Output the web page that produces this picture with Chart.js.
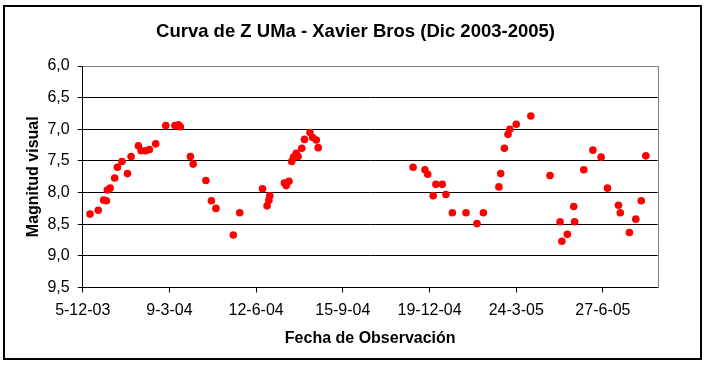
<!DOCTYPE html>
<html>
<head>
<meta charset="utf-8">
<script src="https://cdn.jsdelivr.net/npm/chart.js@4"></script>
<style>
  html, body { margin: 0; padding: 0; background: #fff; }
  canvas { display: block; }
</style>
</head>
<body>
<canvas id="chart" width="711" height="366"></canvas>
<script>
// dias desde 5-12-03 (fecha de observacion)
const obsDays = [8, 17, 23, 26, 27, 30, 35, 38, 43, 49, 53, 61, 64, 69, 73, 80, 91, 101, 105, 107,
  118, 121, 135, 141, 146, 165, 172, 197, 202, 204, 205, 221, 223, 226, 229, 231, 234, 236, 240, 243,
  249, 252, 256, 258, 362, 375, 378, 384, 387, 394, 398, 405, 420, 432, 439, 456, 458, 462, 466, 468,
  475, 491, 512, 523, 525, 531, 538, 539, 549, 559, 568, 575, 587, 589, 599, 606, 612, 617];
const magnitudes = [8.34, 8.28, 8.12, 8.13, 7.96, 7.93, 7.77, 7.60, 7.51, 7.70, 7.43, 7.26, 7.34, 7.34, 7.32, 7.23, 6.94, 6.94, 6.93, 6.96,
  7.43, 7.55, 7.81, 8.13, 8.25, 8.67, 8.32, 7.94, 8.21, 8.12, 8.05, 7.85, 7.89, 7.82, 7.51, 7.44, 7.38, 7.43, 7.30, 7.16,
  7.05, 7.13, 7.17, 7.29, 7.60, 7.64, 7.71, 8.05, 7.87, 7.87, 8.03, 8.32, 8.32, 8.49, 8.32, 7.91, 7.70, 7.30, 7.08, 7.00,
  6.92, 6.79, 7.73, 8.46, 8.77, 8.66, 8.22, 8.46, 7.64, 7.33, 7.44, 7.93, 8.20, 8.32, 8.63, 8.42, 8.13, 7.42];
const tickDays = [0, 95, 190, 285, 380, 475, 570];
const startDate = Date.UTC(2003, 11, 5);

const FONT = '"Liberation Sans", Arial, sans-serif';

const points = obsDays.map((d, i) => ({ x: d, y: magnitudes[i] }));

const frame = {
  id: 'frame',
  beforeDraw(chart) {
    const ctx = chart.ctx;
    ctx.save();
    ctx.fillStyle = '#fff';
    ctx.fillRect(0, 0, chart.width, chart.height);
    ctx.strokeStyle = '#000';
    ctx.lineWidth = 2;
    ctx.strokeRect(4, 6, 697, 353);
    ctx.restore();
  },
  beforeDatasetsDraw(chart) {
    const { ctx, chartArea: a } = chart;
    ctx.save();
    ctx.strokeStyle = '#808080';
    ctx.lineWidth = 1;
    ctx.beginPath();
    ctx.moveTo(Math.round(a.left), Math.round(a.top) + 0.5);
    ctx.lineTo(Math.round(a.right) + 0.5, Math.round(a.top) + 0.5);
    ctx.lineTo(Math.round(a.right) + 0.5, Math.round(a.bottom));
    ctx.stroke();
    ctx.restore();
  }
};

new Chart(document.getElementById('chart'), {
  type: 'scatter',
  data: {
    datasets: [{
      label: 'Z UMa',
      data: points,
      backgroundColor: '#ff0000',
      borderWidth: 0,
      pointRadius: 3.8,
      pointHoverRadius: 3.8,
    }],
  },
  options: {
    responsive: false,
    animation: false,
    layout: { padding: 0 },
    plugins: {
      legend: { display: false },
      tooltip: { enabled: false },
      title: {
        display: true,
        text: 'Curva de Z UMa - Xavier Bros (Dic 2003-2005)',
        color: '#000',
        font: { family: FONT, size: 18.5, weight: 'bold', lineHeight: 1.2 },
        padding: { top: 21, bottom: 66 - 21 - 22.2 },
      },
    },
    scales: {
      x: {
        type: 'linear',
        min: 0,
        max: 630,
        afterBuildTicks: (scale) => { scale.ticks = tickDays.map(v => ({ value: v })); },
        afterFit: (scale) => { scale.height = 366 - 287.5; },
        ticks: {
          color: '#000',
          font: { family: FONT, size: 16 },
          padding: 8,
          maxRotation: 0,
          autoSkip: false,
          callback: (v) => {
            const d = new Date(startDate + v * 864e5);
            return d.getUTCDate() + '-' + (d.getUTCMonth() + 1) + '-' + String(d.getUTCFullYear()).slice(2);
          },
        },
        grid: { drawOnChartArea: false, color: '#000', tickLength: 5 },
        border: { color: '#000', width: 1 },
        title: {
          display: true,
          text: 'Fecha de Observación',
          color: '#000',
          font: { family: FONT, size: 16, weight: 'bold', lineHeight: 1.2 },
          padding: { top: 0, bottom: 18 },
        },
      },
      y: {
        min: 6,
        max: 9.5,
        reverse: true,
        afterFit: (scale) => { scale.width = 82.7; },
        ticks: {
          stepSize: 0.5,
          color: '#000',
          font: { family: FONT, size: 16 },
          padding: 8,
          callback: (v) => v.toFixed(1).replace('.', ','),
        },
        grid: {
          color: (c) => (c.tick && c.tick.value === 6 ? '#808080' : '#000'),
          tickColor: '#000',
          tickLength: 5,
        },
        border: { color: '#000', width: 1 },
        title: {
          display: true,
          text: 'Magnitud visual',
          color: '#000',
          font: { family: FONT, size: 16, weight: 'bold', lineHeight: 1.2 },
          padding: { top: 23.5, bottom: 0 },
        },
      },
      // empty right axis: only reserves the space right of the plot
      yRight: {
        position: 'right',
        min: 6,
        max: 9.5,
        afterFit: (scale) => { scale.width = 711 - 657.7; },
        ticks: { display: false },
        grid: { display: false },
        border: { display: false },
      },
    },
  },
  plugins: [frame],
});
</script>
</body>
</html>
